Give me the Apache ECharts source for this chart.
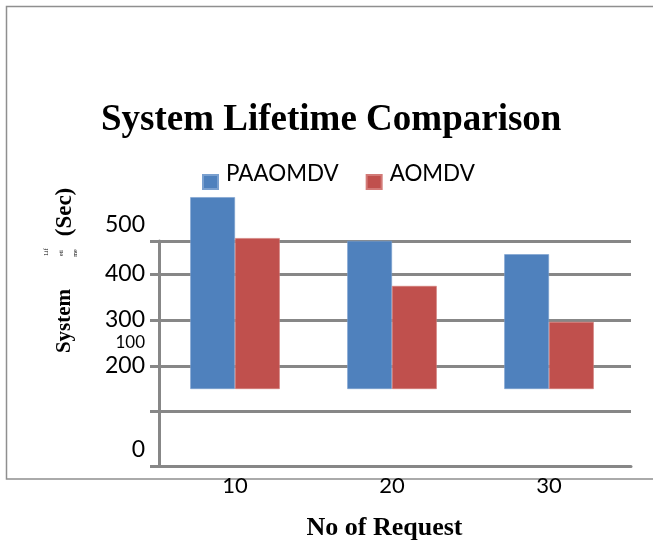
<!DOCTYPE html>
<html>
<head>
    <meta charset="utf-8">
    <title>System Lifetime Comparison</title>
    <script type="text/javascript" src="https://cdn.jsdelivr.net/npm/echarts@6/dist/echarts.min.js"></script>
    <style>
        html, body { margin: 0; padding: 0; background: #fff; }
    </style>
</head>
<body>
    <div id="main" style="width:653px;height:542px;"></div>
    <script type="text/javascript">
        // data
        var categories = ['10', '20', '30'];
        var paaomdv = [567, 472, 443];
        var aomdv = [478, 374, 296];
        var barFloor = 150;   // the bars in the picture float, they start here

        // y labels: text and where it sits on the value scale
        var yTickText = ['0', '100', '200', '300', '400', '500'];
        var yTickAt = [19, 251, 200, 300, 400, 508];
        // horizontal rules of the frame
        var ruleAt = [-17.4, 102, 200, 300, 400, 471.7];

        var gray = '#878787';
        var sans = 'Lato';
        var serif = 'Liberation Serif';

        var floors = categories.map(function () { return barFloor; });
        function aboveFloor(arr) {
            return arr.map(function (v) { return v - barFloor; });
        }

        var myChart = echarts.init(document.getElementById('main'));

        var option = {
            animation: false,
            title: {
                text: 'System Lifetime Comparison',
                left: 96,
                top: 97,
                textStyle: { fontFamily: serif, fontWeight: 'bold', fontSize: 37, color: '#000' }
            },
            legend: {
                data: ['PAAOMDV', 'AOMDV'],
                left: 202,
                top: 163,
                padding: 0,
                itemWidth: 15,
                itemHeight: 14,
                itemGap: 27,
                icon: 'rect',
                formatter: '{t|{name}}',
                textStyle: {
                    rich: { t: { fontFamily: sans, fontSize: 22.4, color: '#000', padding: [0, 0, 16, 3] } }
                }
            },
            grid: [
                // frame: rules and axis lines
                { left: 159, right: 22, top: 241, bottom: 76, containLabel: false, outerBoundsMode: 'none' },
                // bars and labels
                { left: 156.5, right: 25.5, top: 190, bottom: 76, containLabel: false, outerBoundsMode: 'none' }
            ],
            xAxis: [
                {
                    type: 'category', gridIndex: 0, data: categories,
                    axisLine: { show: true, onZero: false, lineStyle: { color: gray, width: 3 } },
                    axisTick: { show: false },
                    axisLabel: { show: false }
                },
                {
                    type: 'category', gridIndex: 1, data: categories,
                    axisLine: { show: false, onZero: false },
                    axisTick: { show: false },
                    axisLabel: { fontFamily: sans, fontSize: 22, color: '#000', margin: 9 },
                    name: 'No of Request',
                    nameLocation: 'middle',
                    nameGap: 49,
                    nameTextStyle: { fontFamily: serif, fontWeight: 'bold', fontSize: 26, color: '#000', padding: [0, 15, 0, 0] }
                }
            ],
            yAxis: [
                {
                    type: 'value', gridIndex: 0, min: ruleAt[0], max: ruleAt[ruleAt.length - 1],
                    axisLine: { show: true, onZero: false, lineStyle: { color: gray, width: 3 } },
                    axisTick: { show: true, customValues: ruleAt, length: 9, lineStyle: { color: gray, width: 3 } },
                    splitLine: { show: true, lineStyle: { color: gray, width: 3 } },
                    axisLabel: { show: false }
                },
                {
                    type: 'value', gridIndex: 1, min: -17.4, max: 582.6,
                    axisLine: { show: false },
                    axisTick: { show: false },
                    splitLine: { show: false },
                    axisLabel: {
                        customValues: yTickAt,
                        margin: 11.5,
                        fontFamily: sans,
                        fontSize: 23,
                        color: '#000',
                        formatter: function (v) {
                            var t = yTickText[yTickAt.indexOf(v)];
                            return t === '100' ? '{s|' + t + '}' : t;
                        },
                        rich: { s: { fontFamily: sans, fontSize: 17, color: '#000' } }
                    }
                }
            ],
            series: [
                {
                    name: 'floorA', type: 'bar', stack: 'a', xAxisIndex: 1, yAxisIndex: 1,
                    data: floors, itemStyle: { color: 'rgba(0,0,0,0)' },
                    barGap: '0%', barCategoryGap: '43%', silent: true
                },
                {
                    name: 'PAAOMDV', type: 'bar', stack: 'a', xAxisIndex: 1, yAxisIndex: 1,
                    data: aboveFloor(paaomdv),
                    itemStyle: { color: '#4F81BD', borderColor: '#7aa0cf', borderWidth: 0.6 }
                },
                {
                    name: 'floorB', type: 'bar', stack: 'b', xAxisIndex: 1, yAxisIndex: 1,
                    data: floors, itemStyle: { color: 'rgba(0,0,0,0)' }, silent: true
                },
                {
                    name: 'AOMDV', type: 'bar', stack: 'b', xAxisIndex: 1, yAxisIndex: 1,
                    data: aboveFloor(aomdv),
                    itemStyle: { color: '#C0504D', borderColor: '#d27a77', borderWidth: 0.6 }
                }
            ],
            graphic: [
                {
                    type: 'rect', z: -1, silent: true,
                    shape: { x: 6.5, y: 6.5, width: 700, height: 472.5 },
                    style: { fill: 'none', stroke: '#8f8f8f', lineWidth: 1.5 }
                },
                {
                    type: 'text', x: 65, y: 321, rotation: Math.PI / 2,
                    style: { text: 'System', fontFamily: serif, fontWeight: 'bold', fontSize: 21, fill: '#000', align: 'center', verticalAlign: 'middle' }
                },
                {
                    type: 'text', x: 65, y: 212, rotation: Math.PI / 2,
                    style: { text: '(Sec)', fontFamily: serif, fontWeight: 'bold', fontSize: 23, fill: '#000', align: 'center', verticalAlign: 'middle' }
                },
                {
                    type: 'text', x: 46, y: 252, rotation: Math.PI / 2,
                    style: { text: 'Lif', fontFamily: serif, fontSize: 6, fill: '#000', align: 'center', verticalAlign: 'middle' }
                },
                {
                    type: 'text', x: 61, y: 253, rotation: Math.PI / 2,
                    style: { text: 'eti', fontFamily: serif, fontSize: 6, fill: '#000', align: 'center', verticalAlign: 'middle' }
                },
                {
                    type: 'text', x: 75, y: 253, rotation: Math.PI / 2,
                    style: { text: 'me', fontFamily: serif, fontSize: 6, fill: '#000', align: 'center', verticalAlign: 'middle' }
                }
            ]
        };

        myChart.setOption(option);
    </script>
</body>
</html>
